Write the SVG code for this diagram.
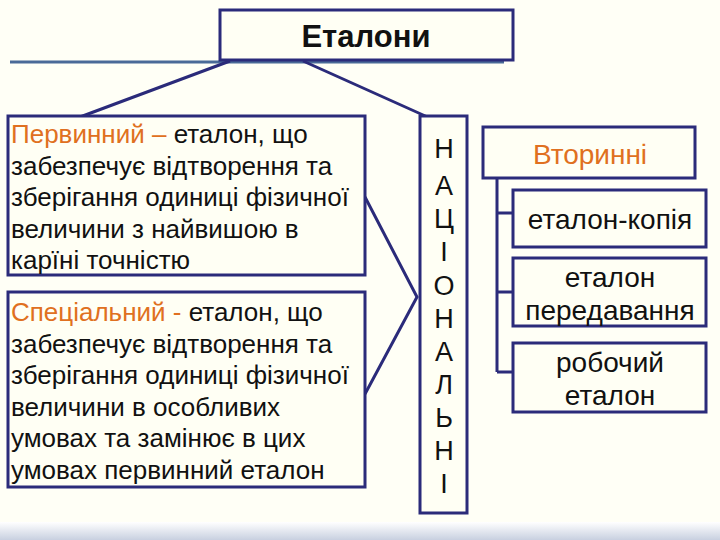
<svg xmlns="http://www.w3.org/2000/svg" width="720" height="540" viewBox="0 0 720 540">
<defs>
<style>
.b{fill:#fffff4;stroke:#2b2b7a;stroke-width:3}
.c{stroke:#2b2b7a;stroke-width:3;fill:none}
text{font-family:"Liberation Sans",Arial,sans-serif;font-size:26px;fill:#111}
.o{fill:#e07020}
.m{text-anchor:middle}
.t{font-size:31px;font-weight:bold}
.n{font-size:27px}
.r{font-size:28px}
</style>
<linearGradient id="g" x1="0" y1="0" x2="0" y2="1"><stop offset="0" stop-color="#fff"/><stop offset="1" stop-color="#c8d0e0"/></linearGradient>
</defs>
<rect width="720" height="540" fill="#fffff6"/>
<rect y="522" width="720" height="18" fill="url(#g)"/>
<line x1="10" y1="62" x2="504" y2="62" stroke="#4a6a98" stroke-width="3"/>
<g id="connectors">
<path class="c" d="M230 61 L80 117 M303 61 L452 128"/>
<path class="c" d="M365 197 L417 297 L365 394"/>
<path class="c" d="M497 178 V372 M497 213 H513 M497 292 H513 M497 372 H513"/>
</g>
<g id="top"><rect class="b" x="220" y="10" width="293" height="50"/><text class="m t" x="366" y="47">Еталони</text></g>
<g id="primary"><rect class="b" x="8" y="116" width="357" height="159"/>
<text x="11" y="143"><tspan class="o">Первинний – </tspan>еталон, що</text>
<text x="11" y="175">забезпечує відтворення та</text>
<text x="11" y="206">зберігання одиниці фізичної</text>
<text x="11" y="238">величини з найвишою в</text>
<text x="11" y="269">карїні точністю</text></g>
<g id="special"><rect class="b" x="8" y="292" width="357" height="195"/>
<text x="11" y="321"><tspan class="o">Спеціальний - </tspan>еталон, що</text>
<text x="11" y="353">забезпечує відтворення та</text>
<text x="11" y="384">зберігання одиниці фізичної</text>
<text x="11" y="416">величини в особливих</text>
<text x="11" y="447">умовах та замінює в цих</text>
<text x="11" y="479">умовах первинний еталон</text></g>
<g id="national"><rect class="b" x="420" y="116" width="47" height="397"/>
<text class="m n"><tspan x="444" y="158">Н</tspan><tspan x="444" y="195">А</tspan><tspan x="444" y="228">Ц</tspan><tspan x="444" y="261">І</tspan><tspan x="444" y="295">О</tspan><tspan x="444" y="328">Н</tspan><tspan x="444" y="361">А</tspan><tspan x="444" y="394">Л</tspan><tspan x="444" y="427">Ь</tspan><tspan x="444" y="460">Н</tspan><tspan x="444" y="493">І</tspan></text></g>
<g id="secondary"><rect class="b" x="483" y="127" width="212" height="51"/><text class="m o r" x="590" y="164">Вторинні</text></g>
<g id="copy"><rect class="b" x="513" y="190" width="193" height="57"/><text class="m r" x="610" y="229">еталон-копія</text></g>
<g id="transfer"><rect class="b" x="513" y="258" width="193" height="68"/><text class="m r" x="610" y="287">еталон</text><text class="m r" x="610" y="320">передавання</text></g>
<g id="working"><rect class="b" x="513" y="343" width="193" height="69"/><text class="m r" x="610" y="372">робочий</text><text class="m r" x="610" y="405">еталон</text></g>
</svg>
